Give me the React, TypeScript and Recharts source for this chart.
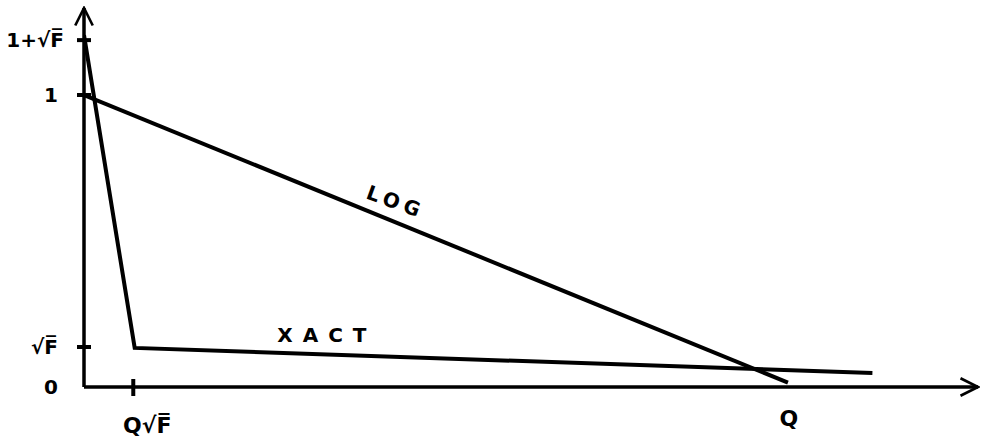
import React from 'react';
import { LineChart, Line, XAxis, YAxis, ReferenceDot } from 'recharts';

// abstract units: Q = 10 on x, 1 = one unit on y
const logLine = [
  { x: 0, y: 1.0 },
  { x: 10.0, y: 0.015 },
];

const xactLine = [
  { x: 0, y: 1.205 },
  { x: 0.72, y: 0.134 },
  { x: 11.2, y: 0.048 },
];

const yTicks = [0, 0.137, 1, 1.188];
const yTickLabels = ['0', '√F̅', '1', '1+√F̅'];

const xTicks = [0.7, 10];
const xTickLabels = ['Q√F̅', 'Q'];
const xTickMarks = [true, false];

const FONT = '"DejaVu Sans", sans-serif';

const YTick = (props: any) => {
  const { x, y, payload } = props;
  const i = yTicks.indexOf(payload.value);
  const hasMark = payload.value !== 0;
  return (
    <g>
      {hasMark && <line x1={x - 7} x2={x + 7} y1={y} y2={y} stroke="#000" strokeWidth={4} />}
      <text x={x - (i === 3 ? 20 : 26)} y={y} dy="0.35em" textAnchor="end" fontFamily={FONT} fontWeight="bold" fontSize={20} fill="#000">
        {yTickLabels[i]}
      </text>
    </g>
  );
};

const XTick = (props: any) => {
  const { x, y, payload } = props;
  const i = xTicks.indexOf(payload.value);
  return (
    <g>
      {xTickMarks[i] && <line x1={x} x2={x} y1={y - 8} y2={y + 9} stroke="#000" strokeWidth={4} />}
      <text x={i === 0 ? x + 14 : x + 1} y={i === 0 ? y + 38 : y + 31} dy="0.35em" textAnchor="middle" fontFamily={FONT} fontWeight="bold" fontSize={22} fill="#000">
        {xTickLabels[i]}
      </text>
    </g>
  );
};

const curveLabel = (text: string, angle: number, spacing: number) => (props: any) => {
  const { viewBox } = props;
  const cx = viewBox.x + (viewBox.width || 0) / 2;
  const cy = viewBox.y + (viewBox.height || 0) / 2;
  return (
    <text
      x={cx}
      y={cy}
      dy="0.35em"
      textAnchor="middle"
      transform={`rotate(${angle} ${cx} ${cy})`}
      fontFamily={FONT}
      fontWeight="bold"
      fontSize={20}
      letterSpacing={spacing}
      fill="#000"
    >
      {text}
    </text>
  );
};

export default function App() {
  return (
    <div style={{ position: 'fixed', left: 0, top: 0, background: '#fff' }}>
      <LineChart width={983} height={439} margin={{ top: 8, right: 5, bottom: 0, left: 0 }}>
        <defs>
          <marker id="arrow" viewBox="0 0 12 12" refX="11" refY="6" markerWidth="6" markerHeight="6" markerUnits="strokeWidth" orient="auto-start-reverse">
            <path d="M1,1 L11,6 L1,11" fill="none" stroke="#000" strokeWidth={1.5} />
          </marker>
        </defs>
        <XAxis
          type="number"
          dataKey="x"
          domain={[0, 12.7]}
          ticks={xTicks}
          allowDataOverflow
          height={52}
          tickLine={false}
          tickSize={0}
          tickMargin={0}
          axisLine={{ stroke: '#000', strokeWidth: 3.5, markerEnd: 'url(#arrow)' }}
          tick={<XTick />}
          interval={0}
        />
        <YAxis
          type="number"
          dataKey="y"
          domain={[0, 1.298]}
          ticks={yTicks}
          allowDataOverflow
          width={84}
          tickLine={false}
          tickSize={0}
          tickMargin={0}
          axisLine={{ stroke: '#000', strokeWidth: 3.5, markerStart: 'url(#arrow)' }}
          tick={<YTick />}
          interval={0}
        />
        <Line data={logLine} dataKey="y" type="linear" stroke="#000" strokeWidth={4} dot={false} isAnimationActive={false} />
        <Line data={xactLine} dataKey="y" type="linear" stroke="#000" strokeWidth={4} dot={false} isAnimationActive={false} />
        <ReferenceDot x={4.43} y={0.634} r={0} fill="none" stroke="none" label={curveLabel('LOG', 20, 5)} />
        <ReferenceDot x={3.45} y={0.178} r={0} fill="none" stroke="none" label={curveLabel('XACT', 0, 10)} />
      </LineChart>
    </div>
  );
}
